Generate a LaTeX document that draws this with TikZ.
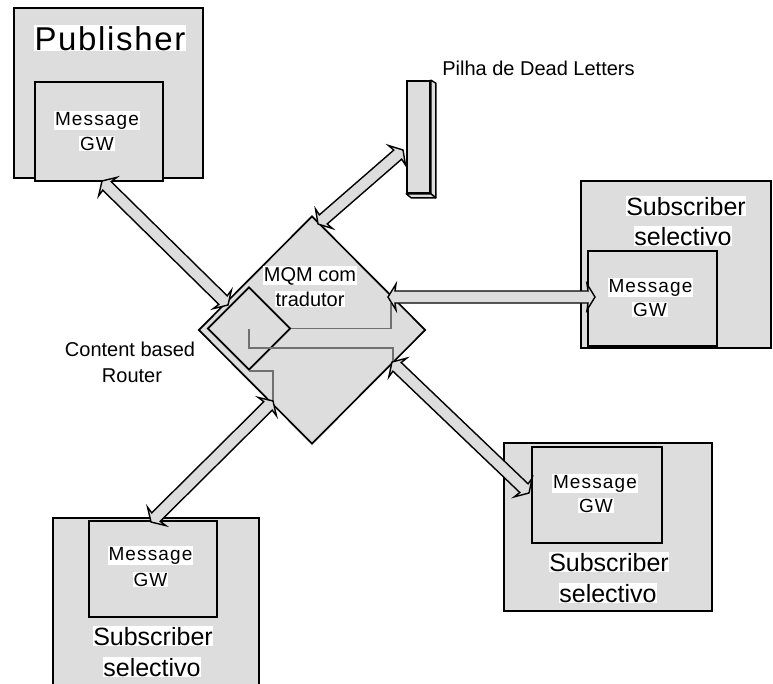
\documentclass[tikz,border=0pt]{standalone}
\usepackage{fontspec}
\setmainfont{Liberation Sans}
\usetikzlibrary{shapes.geometric,calc}
\definecolor{boxgray}{RGB}{221,221,221}
\definecolor{linegray}{RGB}{112,112,112}
\tikzset{
  outerbox/.style={rectangle, draw=black, fill=boxgray, line width=2pt, inner sep=0pt},
  innerbox/.style={rectangle, draw=black, fill=boxgray, line width=2pt, inner sep=0pt},
  dmd/.style={diamond, draw=black, fill=boxgray, line width=1.7pt, inner sep=0pt},
  lbl/.style={fill=white, inner sep=0.6pt, anchor=base},
  plainlbl/.style={inner sep=0.6pt, anchor=base},
  msgfont/.style={font=\fontsize{19}{22}\selectfont\addfontfeature{LetterSpace=6}},
  subfont/.style={font=\fontsize{25}{28}\selectfont},
  midfont/.style={font=\fontsize{20}{23}\selectfont},
  arrowst/.style={draw=black, fill=boxgray, line width=1.4pt, line join=miter},
  wire/.style={draw=linegray, line width=1.4pt}
}
\newcommand{\dblarrow}[2]{%
  \coordinate (da) at ($(#1)!8pt!(#2)$);
  \coordinate (db) at ($(#2)!8pt!(#1)$);
  \coordinate (dna) at ($(#1)!7pt!(#2)$);
  \coordinate (dnb) at ($(#2)!7pt!(#1)$);
  \draw[arrowst] (#1) -- ($(da)!13pt!90:(#2)$) -- ($(dna)!6pt!90:(#2)$)
    -- ($(dnb)!6pt!-90:(#1)$) -- ($(db)!13pt!-90:(#1)$) -- (#2)
    -- ($(db)!13pt!90:(#1)$) -- ($(dnb)!6pt!90:(#1)$)
    -- ($(dna)!6pt!-90:(#2)$) -- ($(da)!13pt!-90:(#2)$) -- cycle;
}
\begin{document}
\begin{tikzpicture}[x=1pt,y=-1pt]
\clip (0,0) rectangle (773,683);
\fill[white] (0,0) rectangle (773,683);

% Publisher
\node[outerbox, minimum width=189pt, minimum height=170pt] (pub) at (108.5,93) {};
\node[innerbox, minimum width=128pt, minimum height=99pt] (pubgw) at (99,131.5) {};

% Subscriber right
\node[outerbox, minimum width=190pt, minimum height=167pt] (subr) at (676,264.5) {};
\node[innerbox, minimum width=129pt, minimum height=95pt] (subrgw) at (652.5,298.5) {};

% Subscriber bottom left
\node[outerbox, minimum width=206pt, minimum height=200pt] (subl) at (156,618) {};
\node[innerbox, minimum width=128pt, minimum height=96pt] (sublgw) at (153,569) {};

% Subscriber bottom right
\node[outerbox, minimum width=208pt, minimum height=168pt] (subbr) at (608,527) {};
\node[innerbox, minimum width=130pt, minimum height=96pt] (subbrgw) at (597,495) {};

% Dead letters stack (3D bar)
\node[rectangle, draw=black, fill=boxgray, line width=1.7pt, inner sep=0pt,
      minimum width=23pt, minimum height=112pt] (dlq) at (418.5,137) {};
\draw[draw=black, fill=boxgray, line width=1.4pt, line join=round]
  (dlq.north east) -- ++(5,3) -- ($(dlq.south east)+(5,4)$) -- (dlq.south east) -- cycle;
\draw[draw=black, fill=boxgray, line width=1.4pt, line join=round]
  (dlq.south west) -- (dlq.south east) -- ++(5,4) -- ($(dlq.south west)+(5,4)$) -- cycle;

% MQM diamond and Content based Router diamond
\node[dmd, minimum width=227pt, minimum height=228pt] (mqm) at (312,330) {};
\node[dmd, minimum width=83pt, minimum height=83pt] (cbr) at (249,328.5) {};

% internal wires
\coordinate (w1) at (391,303);
\coordinate (w2a) at (249,348);
\coordinate (w2) at (393,363);
\coordinate (w3) at (273,403);
\draw[wire] (cbr.east) -| (w1);
\draw[wire] (cbr.center) -- (w2a) -| (w2);
\draw[wire] (cbr.south) -| (w3);

% arrow tips
\coordinate (pubA) at (102,181);
\coordinate (pubB) at (228,305);
\coordinate (dlA) at (318,224);
\coordinate (dlB) at (403,150);
\coordinate (rA) at (388,297);
\coordinate (rB) at (595,297);
\coordinate (blA) at (273,401);
\coordinate (blB) at (151,522);
\coordinate (brA) at (392,362);
\coordinate (brB) at (529,493);

\dblarrow{pubA}{pubB}
\dblarrow{dlA}{dlB}
\dblarrow{rA}{rB}
\dblarrow{blA}{blB}
\dblarrow{brA}{brB}

% texts
\node[lbl, font=\fontsize{33}{36}\selectfont\addfontfeature{LetterSpace=5}] (tpub) at (110,50) {Publisher};
\node[lbl, msgfont] (tpm1) at (97,125) {Message};
\node[lbl, msgfont] (tpm2) at (97,150) {GW};

\node[lbl, subfont] (trs1) at (686,215) {Subscriber};
\node[lbl, subfont] (trs2) at (683,245) {selectivo};
\node[lbl, msgfont] (trm1) at (650.5,292) {Message};
\node[lbl, msgfont] (trm2) at (650,316) {GW};

\node[lbl, msgfont] (tlm1) at (150.5,560) {Message};
\node[lbl, msgfont] (tlm2) at (150.5,586) {GW};
\node[lbl, subfont] (tls1) at (153,645) {Subscriber};
\node[lbl, subfont] (tls2) at (152,676) {selectivo};

\node[lbl, msgfont] (tbm1) at (595,488) {Message};
\node[lbl, msgfont] (tbm2) at (596,512) {GW};
\node[lbl, subfont] (tbs1) at (609,571) {Subscriber};
\node[lbl, subfont] (tbs2) at (608,602) {selectivo};

\node[lbl, midfont] (tmqm1) at (310,281) {MQM com};
\node[lbl, midfont] (tmqm2) at (310,306) {tradutor};

\node[plainlbl, midfont] (tcbr1) at (130,356) {Content based};
\node[plainlbl, midfont] (tcbr2) at (132,382) {Router};

\node[plainlbl, midfont] (tdlq) at (538.5,75) {Pilha de Dead Letters};
\end{tikzpicture}
\end{document}
